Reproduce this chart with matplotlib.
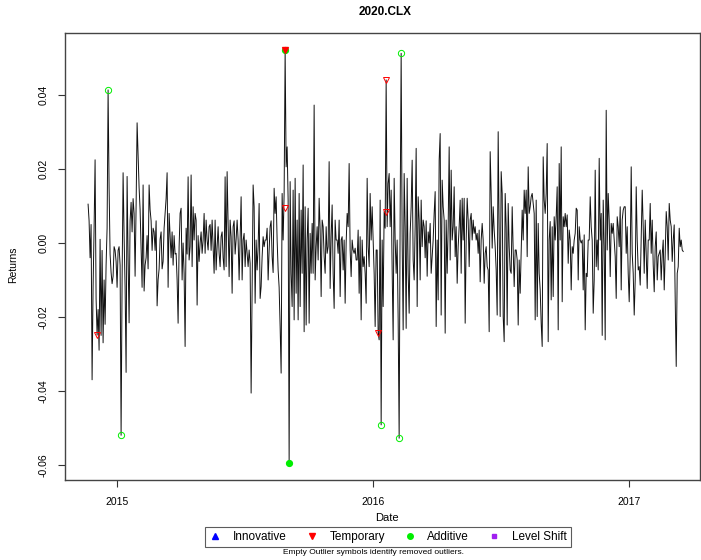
import numpy as np
import pandas as pd
import matplotlib
matplotlib.use('Agg')
import matplotlib.pyplot as plt
import matplotlib.dates as mdates
from matplotlib.lines import Line2D

plt.rcParams['font.family'] = ['Liberation Sans', 'DejaVu Sans']

# daily returns in chunks from left to right
ret_late2014 = [0.0105, 0.006, -0.004, 0.005, -0.037, -0.012, 0.004, 0.0225, -0.015, -0.0249,
                -0.018, -0.029, 0.001, -0.025, -0.002, -0.027, -0.010, -0.022, -0.006, 0.004,
                0.0414, 0.015, -0.003, -0.008, -0.011, -0.009, -0.001, -0.002, -0.005, -0.012,
                -0.002, -0.001, -0.006, -0.052, -0.010, 0.019, 0.002, -0.012, -0.035, 0.018,
                -0.004, -0.0216, 0.006, 0.011, 0.003, 0.012, 0.008, -0.009, 0.010, 0.0325,
                0.024, 0.015, 0.009, -0.002, -0.012, 0.0157, -0.013, -0.006, -0.004, 0.002,
                -0.007, 0.0157, 0.009, 0.006, -0.002, 0.004, 0.003, -0.002, 0.006, -0.017,
                -0.010, -0.007, 0.001, 0.003, -0.007, -0.005, 0.004, 0.008, 0.012, 0.019,
                -0.012, 0.008, 0.002, -0.004, 0.003, -0.006, 0.002, -0.003]
ret_mid2015 = [-0.0028, -0.010, -0.0217, -0.001, 0.008, 0.0094, -0.010, 0.0, -0.0082, -0.028,
               0.004, -0.003, 0.0179, -0.0046, -0.001, 0.0184, -0.0064, 0.0098, 0.0008, 0.008,
               0.0062, -0.0168, 0.002, -0.005, 0.0, 0.003, -0.0028, 0.0008, 0.008, -0.0028,
               0.0062, 0.0008, -0.0019, 0.0044, 0.005, -0.002, 0.0062, -0.001, -0.0082, 0.0062,
               -0.0073, -0.001, 0.0044, -0.0028, -0.0064, 0.0017, 0.003, -0.004, -0.0073, 0.0179,
               -0.0064, 0.0193, 0.0044, -0.0091, 0.0062, 0.0017, -0.0136, 0.0044, 0.006, -0.003,
               0.001, 0.0062, 0.0008, -0.010, 0.0008, 0.0125, -0.010, 0.0008, 0.0026, -0.0064,
               0.0008, -0.0028, -0.0064, -0.0019, -0.0055, -0.0406, -0.0109, 0.0157, 0.0098, -0.0163,
               0.0008, -0.0073, -0.001, 0.0107, -0.015, -0.0118, -0.0037, 0.0017, -0.001, 0.0008]
ret_late2015 = [0.0008, 0.004, -0.010, -0.002, 0.0044, 0.006, -0.0037, -0.008, 0.0148, 0.008,
                0.0125, 0.0008, -0.0073, -0.012, -0.0226, -0.0352, 0.0134, 0.0008, 0.0134, 0.0522,
                0.0206, 0.026, 0.0116, -0.0595, 0.0166, -0.0082, -0.0172, 0.0143, -0.0208, 0.0175,
                -0.0136, 0.0062, -0.0208, 0.0134, -0.0172, 0.0089, -0.0082, 0.0211, -0.024, 0.0098,
                -0.0222, 0.0008, 0.0094, -0.0217, 0.0026, -0.0082, 0.0053, -0.0082, 0.0373, -0.010,
                -0.001, 0.0044, -0.0046, 0.0121, 0.0035, -0.0145, 0.0062, 0.0044, -0.0037, -0.0082,
                0.0044, -0.0028, -0.001, 0.022, -0.0123, 0.0017, 0.0103, -0.0082, -0.0177, 0.0062,
                0.0008, 0.0008, -0.0028, 0.0062, -0.0145, 0.0008, 0.0017, -0.0073, 0.0008, -0.0163,
                0.0, 0.008, 0.0044, 0.0215, -0.0019, -0.0091, 0.0008, -0.0019, -0.0028, -0.0014,
                -0.0046]
ret_early2016 = [-0.0046, 0.0035, -0.0136, 0.0017, -0.0208, 0.0008, -0.0064, -0.0037, -0.0082, -0.0163,
                 0.0175, -0.001, -0.0064, 0.0134, 0.0008, 0.0098, 0.0008, -0.0082, -0.0226, -0.0019,
                 -0.0019, -0.0243, -0.0262, 0.0116, -0.0492, 0.0008, -0.0172, 0.0085, 0.004, 0.0441,
                 0.0044, 0.0161, 0.0188, 0.0044, 0.0143, -0.0073, -0.0262, 0.0175, 0.0008, -0.0082,
                 0.0008, -0.0208, -0.0528, 0.008, 0.0513, 0.0008, -0.0235, 0.0188, 0.0044, -0.0231,
                 0.0175, -0.0082, -0.019, 0.0026, 0.0098, 0.0224, -0.0046, -0.010, 0.0044, 0.0256,
                 -0.0172, 0.0125, 0.0062, -0.010, 0.0116, -0.001, 0.0062, 0.0044, -0.004, 0.006,
                 -0.009, 0.003, 0.0, 0.0053, -0.0082, -0.0037, 0.0008, 0.008, 0.0139, -0.0226,
                 0.0008, -0.0154, 0.0224, 0.0296, -0.0195, 0.017, 0.0098, 0.0062]
ret_mid2016 = [-0.0244, 0.0062, -0.0082, 0.0044, 0.026, -0.0046, 0.0197, 0.0008, 0.0044, 0.0152,
               -0.0037, 0.0044, -0.0109, -0.001, 0.0044, 0.0116, -0.0082, 0.0121, 0.0008, 0.0121,
               -0.0217, 0.0008, 0.0121, 0.0062, -0.0064, 0.0062, 0.008, 0.0008, 0.0062, 0.0026,
               0.0044, 0.0008, 0.0026, -0.0028, 0.0035, -0.0105, 0.0008, 0.0053, 0.0008, -0.0109,
               -0.0028, -0.001, -0.0064, -0.0073, -0.024, 0.0247, 0.0134, -0.0014, 0.0098, 0.0035,
               -0.001, -0.0073, -0.0195, 0.0301, 0.0026, -0.0199, 0.0193, 0.0134, -0.0199, -0.0267,
               0.0134, 0.0044, -0.0222, 0.0107, -0.001, -0.0073, -0.0082, 0.0098, -0.0019, -0.0118,
               -0.0019, -0.0019, -0.0046, -0.0222, -0.0046, -0.0136, -0.0028, 0.0089, 0.0008, 0.0143,
               0.008, 0.0143, -0.0037, 0.0206, 0.008, 0.0098, 0.0125, 0.0134, 0.0107, 0.008]
ret_late2016 = [-0.0208, 0.0116, -0.0199, 0.0053, -0.0082, -0.0127, -0.0217, -0.028, 0.0233, 0.0116,
                0.008, 0.0134, 0.0269, -0.0267, 0.0008, 0.0058, -0.0154, 0.0044, -0.0145, 0.0071,
                0.0008, 0.0071, 0.0152, -0.0235, 0.0215, 0.0008, 0.026, -0.0159, 0.0071, 0.0044,
                0.008, 0.0044, 0.0076, -0.0055, 0.0035, 0.0008, -0.0127, -0.001, -0.0028, 0.0008,
                0.0026, 0.0094, 0.0089, -0.010, 0.0044, 0.0008, 0.0, 0.0008, -0.0127, 0.0022,
                -0.0235, -0.0082, -0.0091, 0.0008, 0.0008, 0.0125, 0.0044, 0.0008, -0.019, -0.010,
                0.0197, -0.0064, 0.0008, -0.0073, 0.0229, 0.0008, 0.008, -0.025, 0.0116, -0.001,
                -0.0262, 0.0359, -0.0019, 0.0134, 0.0062, -0.0091, 0.0053, 0.0026, 0.0053, 0.0008,
                -0.0037, -0.015, 0.0071, 0.0044, -0.001, 0.0098, -0.0127, 0.0062, 0.0089, 0.0098]
ret_2017 = [0.0098, -0.0028, 0.0044, -0.0082, -0.0159, -0.0037, 0.0206, -0.0028, -0.0082, -0.0195,
            -0.010, 0.0152, 0.0008, -0.0073, -0.0064, -0.0114, 0.0008, 0.0143, 0.0044, -0.0082,
            0.0062, -0.0028, -0.0123, 0.0008, 0.0008, 0.0107, -0.0028, 0.0062, -0.0059, -0.0132,
            -0.001, 0.003, -0.010, -0.0037, -0.0028, -0.0019, -0.010, -0.0032, 0.0008, -0.0127,
            -0.0028, 0.0085, 0.0044, -0.0046, 0.0107, 0.0062, 0.0044, -0.005, 0.0008, 0.0049,
            -0.0154, -0.0334, -0.0082, -0.0064, 0.004, -0.001, 0.0008, -0.0019, -0.0023]

# outliers: value on the series that marks the date, and where the symbol sits
temp_open_at = [-0.0249, 0.0522, -0.0243, 0.0441, 0.0441]
temp_open_val = [-0.0249, 0.0095, -0.0243, 0.0441, 0.0084]
temp_fill_at = [0.0522]
add_open_at = [0.0414, -0.052, -0.0492, -0.0528, 0.0513]
add_fill_at = [0.0522, -0.0595]

returns = np.array(ret_late2014 + ret_mid2015 + ret_late2015 + ret_early2016
                   + ret_mid2016 + ret_late2016 + ret_2017)
dates = pd.date_range('2014-11-20', '2017-03-19', periods=len(returns))


def loc(vals):
    return [int(np.flatnonzero(np.isclose(returns, v, atol=1e-7))[0]) for v in vals]


RED = '#FF0000'
GREEN = '#00EE00'

fig = plt.figure(figsize=(7.01, 5.6), dpi=100)
ax = fig.add_axes([0.0927, 0.1429, 0.9059, 0.7982])

ax.plot(dates, returns, color='#111111', lw=0.7, zorder=2)

idx = loc(add_fill_at)
ax.plot(dates[idx], returns[idx], 'o', color=GREEN, ms=4.2, zorder=3)
idx = loc(temp_fill_at)
ax.plot(dates[idx], returns[idx], 'v', color=RED, ms=4.5, zorder=4)
idx = loc(temp_open_at)
ax.plot(dates[idx], temp_open_val, 'v', mfc='none', mec=RED, mew=0.7, ms=5, zorder=4)
idx = loc(add_open_at)
ax.plot(dates[idx], returns[idx], 'o', mfc='none', mec=GREEN, mew=0.7, ms=4.5, zorder=4)

ax.set_xlim(pd.Timestamp('2014-10-18'), pd.Timestamp('2017-04-12'))
ax.set_ylim(-0.0641, 0.0568)
ax.xaxis.set_major_locator(mdates.YearLocator())
ax.xaxis.set_major_formatter(mdates.DateFormatter('%Y'))
ax.set_yticks([-0.06, -0.04, -0.02, 0.0, 0.02, 0.04])
ax.set_yticklabels(['-0.06', '-0.04', '-0.02', '0.00', '0.02', '0.04'])
plt.setp(ax.get_yticklabels(), rotation=90, va='center')
ax.tick_params(axis='both', labelsize=7.5, length=5, width=0.8, color='#333333', pad=7)
for s in ax.spines.values():
    s.set_color('#444444')
    s.set_linewidth(1.0)

fig.text(385 / 701, 1 - 12 / 560, '2020.CLX', ha='center', va='center',
         fontsize=8.5, fontweight='bold')
fig.text(387 / 701, 1 - 518 / 560, 'Date', ha='center', va='center', fontsize=8)
fig.text(13 / 701, 1 - 265 / 560, 'Returns', ha='center', va='center',
         fontsize=7.5, rotation=90)

handles = [Line2D([], [], ls='none', marker='^', color='blue', ms=5),
           Line2D([], [], ls='none', marker='v', color=RED, ms=5),
           Line2D([], [], ls='none', marker='o', color=GREEN, ms=4),
           Line2D([], [], ls='none', marker='s', color='#A020F0', ms=3.5)]
leg = fig.legend(handles, ['Innovative', 'Temporary', 'Additive', 'Level Shift'],
                 loc='center', bbox_to_anchor=(388 / 701, 1 - 537 / 560), ncol=4,
                 fontsize=8.5, frameon=True, fancybox=False, edgecolor='#333333',
                 handlelength=1.0, handletextpad=1.0, columnspacing=1.6,
                 borderpad=0.35, borderaxespad=0)
leg.get_frame().set_linewidth(0.8)

fig.text(374 / 701, 1 - 553 / 560, 'Empty Outlier symbols identify removed outliers.',
         ha='center', va='center', fontsize=6)

fig.savefig('out.png', dpi=100)
